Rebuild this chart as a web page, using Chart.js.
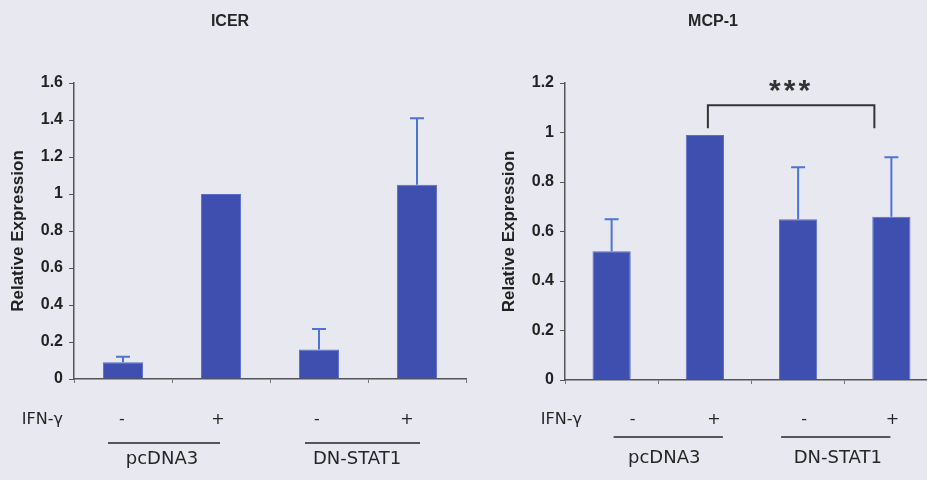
<!DOCTYPE html>
<html>
<head>
<meta charset="utf-8">
<script src="https://cdn.jsdelivr.net/npm/chart.js@4"></script>
<style>
  html, body { margin: 0; padding: 0; background: #e8e8f0; overflow: hidden; }
  body { width: 927px; height: 480px; position: relative; }
  .panel { position: absolute; top: 0; height: 480px; }
  #icerPanel { left: 0; width: 467px; }
  #mcpPanel { left: 467px; width: 472px; }
</style>
</head>
<body>
<div class="panel" id="icerPanel"><canvas id="icerChart"></canvas></div>
<div class="panel" id="mcpPanel"><canvas id="mcpChart"></canvas></div>
<script>
const conditions = ["pcDNA3 -", "pcDNA3 +", "DN-STAT1 -", "DN-STAT1 +"];
const ifnSigns = ["-", "+", "-", "+"];
const groupNames = ["pcDNA3", "DN-STAT1"];

const icerMeans = [0.09, 1.0, 0.16, 1.05];
const icerErrors = [0.03, 0, 0.11, 0.36];
const icerMax = 1.6;

const mcpMeans = [0.52, 0.99, 0.65, 0.66];
const mcpErrors = [0.13, 0, 0.21, 0.24];
const mcpMax = 1.2;

const tickStep = 0.2;

// significance bracket on MCP-1: between bar 1 and bar 3
const sigPair = [1, 3];
const sigLevel = 1.11;
const sigLabel = "***";

const BAR = "#3e4fb0";
const ERR = "#4b74d6";
const INK = "#262626";

// draws title, error bars, the IFN-y row and group labels under the axis
const figurePlugin = {
  id: "figure",
  afterDatasetsDraw(chart, args, opts) {
    const ctx = chart.ctx;
    const x = chart.scales.x;
    const y = chart.scales.y;
    const meta = chart.getDatasetMeta(0);
    const cx = i => x.getPixelForValue(i);

    ctx.save();

    // error bars
    ctx.strokeStyle = ERR;
    ctx.lineWidth = 2;
    opts.errors.forEach((e, i) => {
      if (!e) return;
      const bx = meta.data[i].x;
      const y0 = y.getPixelForValue(opts.means[i]);
      const y1 = y.getPixelForValue(opts.means[i] + e);
      ctx.beginPath();
      ctx.moveTo(bx, y0);
      ctx.lineTo(bx, y1);
      ctx.moveTo(bx - 7, y1);
      ctx.lineTo(bx + 7, y1);
      ctx.stroke();
    });

    // title
    ctx.fillStyle = INK;
    ctx.font = "bold 16px 'Liberation Sans', Arial, sans-serif";
    ctx.textAlign = "center";
    ctx.textBaseline = "middle";
    ctx.fillText(opts.title, opts.titleX, 22);

    // IFN-y row
    ctx.font = "16px 'DejaVu Sans', sans-serif";
    ctx.textAlign = "right";
    ctx.fillText("IFN-\u03b3", opts.ifnRight, opts.rowY);
    ctx.textAlign = "center";
    ifnSigns.forEach((s, i) => {
      ctx.fillText(s, cx(i) + opts.signOffsets[i], opts.rowY);
    });

    // group underlines
    ctx.strokeStyle = INK;
    ctx.lineWidth = 1.5;
    opts.lines.forEach(l => {
      ctx.beginPath();
      ctx.moveTo(cx(l[0]) + l[1], opts.lineY);
      ctx.lineTo(cx(l[2]) + l[3], opts.lineY);
      ctx.stroke();
    });

    // group names
    ctx.font = "18px 'DejaVu Sans', sans-serif";
    groupNames.forEach((g, k) => {
      const mid = (cx(2 * k) + cx(2 * k + 1)) / 2;
      ctx.fillText(g, mid + opts.groupOffsets[k], opts.groupY);
    });

    // significance bracket
    if (opts.bracket) {
      const b = opts.bracket;
      const xa = cx(sigPair[0]) + b.offsets[0];
      const xb = cx(sigPair[1]) + b.offsets[1];
      const yl = y.getPixelForValue(sigLevel);
      ctx.strokeStyle = "#333";
      ctx.lineWidth = 2;
      ctx.beginPath();
      ctx.moveTo(xa, yl + b.drop);
      ctx.lineTo(xa, yl);
      ctx.lineTo(xb, yl);
      ctx.lineTo(xb, yl + b.drop);
      ctx.stroke();
      ctx.fillStyle = "#333";
      ctx.font = "bold 30px 'Liberation Sans', Arial, sans-serif";
      ctx.letterSpacing = "3px";
      ctx.textBaseline = "alphabetic";
      ctx.fillText(sigLabel, (xa + xb) / 2 + b.labelDx, yl - 5);
    }

    ctx.restore();
  }
};

function makeChart(id, means, errors, max, yWidth, xHeight, titlePad, fig) {
  return new Chart(document.getElementById(id), {
    type: "bar",
    data: {
      labels: conditions,
      datasets: [{
        data: means,
        backgroundColor: BAR,
        borderColor: "#5a6dcc",
        borderWidth: 1,
        barPercentage: 0.41,
        categoryPercentage: 1
      }]
    },
    options: {
      responsive: true,
      maintainAspectRatio: false,
      animation: false,
      layout: { padding: { top: 83, right: 1, left: 0, bottom: 0 } },
      plugins: {
        legend: { display: false },
        tooltip: { enabled: false },
        figure: { ...fig, means, errors }
      },
      scales: {
        x: {
          afterFit: s => { s.height = xHeight; },
          ticks: { display: false },
          grid: { drawOnChartArea: false, drawTicks: true, tickLength: 4, color: "#777" },
          border: { color: "#555", width: 1.5 }
        },
        y: {
          min: 0,
          max: max,
          afterFit: s => { s.width = yWidth; },
          ticks: {
            stepSize: tickStep,
            color: "#222",
            padding: 6,
            callback: v => String(+v.toFixed(1)),
            font: { family: "'Liberation Sans', Arial, sans-serif", size: 16, weight: "bold" }
          },
          grid: { drawOnChartArea: false, drawTicks: true, tickLength: 5, color: "#555" },
          border: { color: "#555", width: 1.5 },
          title: {
            display: true,
            text: "Relative Expression",
            color: "#222",
            padding: { top: titlePad, bottom: 0 },
            font: { family: "'Liberation Sans', Arial, sans-serif", size: 17, weight: "bold" }
          }
        }
      }
    },
    plugins: [figurePlugin]
  });
}

makeChart("icerChart", icerMeans, icerErrors, icerMax, 74, 101, 8, {
  title: "ICER",
  titleX: 230,
  ifnRight: 63,
  rowY: 420,
  signOffsets: [-1, -3, -2, -10],
  lineY: 443,
  lines: [[0, -15, 1, -1], [2, -14, 3, 3]],
  groupY: 459,
  groupOffsets: [-10, -11]
});

makeChart("mcpChart", mcpMeans, mcpErrors, mcpMax, 98, 100, 32, {
  title: "MCP-1",
  titleX: 246,
  ifnRight: 115,
  rowY: 420,
  signOffsets: [21, 9, 6, 1],
  lineY: 437,
  lines: [[0, 2, 1, 18], [2, -17, 3, -1]],
  groupY: 458,
  groupOffsets: [6, -7],
  bracket: { offsets: [3, -17], drop: 23, labelDx: 0 }
});
</script>
</body>
</html>
